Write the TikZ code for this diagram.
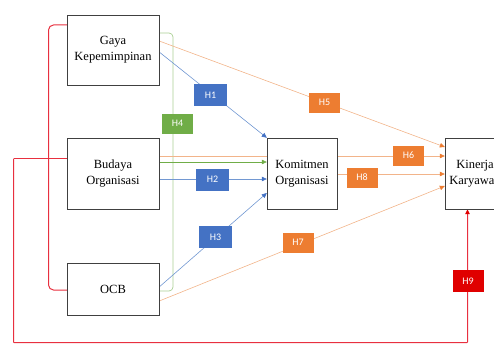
\documentclass[tikz,border=0pt]{standalone}
\usepackage{fontspec}
\setmainfont{Liberation Serif}
\newfontfamily\labfont{Carlito}
\usetikzlibrary{arrows.meta}
\definecolor{bluel}{HTML}{4472C4}
\definecolor{bluet}{HTML}{7298D2}
\definecolor{orgl}{HTML}{ED7D31}
\definecolor{orgt}{HTML}{F2B48A}
\definecolor{grnl}{HTML}{70AD47}
\definecolor{grnt}{HTML}{A9CF92}
\definecolor{redl}{HTML}{E00000}
\definecolor{redt}{HTML}{E8303F}
\definecolor{boxc}{HTML}{404040}
\tikzset{
  varbox/.style={draw=boxc, line width=0.9pt, fill=white, align=center, font=\fontsize{12.5}{16}\selectfont, inner sep=0pt},
  hlab/.style={font=\labfont\fontsize{10}{12}\selectfont, text=white, inner sep=0pt, minimum width=31pt, minimum height=20pt},
  blueln/.style={draw=bluet, line width=0.6pt, -{Triangle[length=5pt,width=4.5pt,fill=bluel,color=bluel]}},
  orgln/.style={draw=orgt, line width=0.6pt, -{Triangle[length=5pt,width=4.5pt,fill=orgl,color=orgl]}},
  grnln/.style={draw=grnt, line width=0.7pt},
  grnarr/.style={draw=grnl, line width=0.6pt, -{Triangle[length=5pt,width=4.5pt,fill=grnl,color=grnl]}},
  redln/.style={draw=redt, line width=1pt, rounded corners=0.5pt},
  redarr/.style={draw=redt, line width=1pt, rounded corners=0.5pt, -{Triangle[length=5pt,width=4.5pt,fill=redl,color=redl]}},
}
\begin{document}
\begin{tikzpicture}[x=1pt,y=-1pt]
\useasboundingbox (0,0) rectangle (494,345);
% box centres
\coordinate (cg) at (113,50);
\coordinate (cb) at (113,173.5);
\coordinate (co) at (113,289);
\coordinate (ck) at (302,173.5);
\coordinate (cr) at (475,173.5);
% invisible anchors of box edges
\node[minimum width=92pt, minimum height=70pt, inner sep=0pt] (gaya) at (cg) {};
\node[minimum width=92pt, minimum height=71pt, inner sep=0pt] (bud) at (cb) {};
\node[minimum width=92pt, minimum height=52pt, inner sep=0pt] (ocb) at (co) {};
\node[minimum width=70pt, minimum height=71pt, inner sep=0pt] (kom) at (ck) {};
\node[minimum width=60pt, minimum height=71pt, inner sep=0pt] (kin) at (cr) {};
% red feedback loop
\coordinate (loopa) at (13.5,158.5);
\coordinate (loopb) at (13.5,342.5);
\coordinate (loopc) at (467.5,342.5);
\draw[redarr] (loopa) -- (loopb) -- (loopc) -- (kin.south -| loopc);
\draw[redln] (loopa) -- (bud.west |- 0,158.5);
% red bracket
\coordinate (rtop) at (48.5,25);
\coordinate (rbot) at (48.5,290);
\draw[redln, rounded corners=5pt] (gaya.west |- 0,25) -- (rtop) -- (rbot) -- (ocb.west |- 0,290);
% green bracket
\coordinate (gtop) at (173,33);
\coordinate (gbot) at (173,291);
\draw[grnln, rounded corners=4pt] (gaya.east |- 0,33) -- (gtop) -- (gbot) -- (ocb.east |- 0,291);
\draw[grnarr] (bud.east |- 0,162) -- (kom.west |- 0,162);
% blue paths
\draw[blueln] (gaya.east |- 0,52) -- (kom.north west);
\draw[blueln] (bud.east |- 0,179) -- (kom.west |- 0,179);
\draw[blueln] (ocb.east |- 0,287) -- (kom.west |- 0,193);
% orange paths
\draw[orgln] (gaya.east |- 0,41) -- (kin.west |- 0,147);
\draw[orgln] (bud.east |- 0,156) -- (kin.west |- 0,156);
\draw[orgln] (kom.east |- 0,174) -- (kin.west |- 0,174);
\draw[orgln] (ocb.east |- 0,301) -- (kin.west |- 0,186);
% visible boxes
\node[varbox, minimum width=92pt, minimum height=70pt] (gayab) at (cg) {Gaya\\Kepemimpinan};
\node[varbox, minimum width=92pt, minimum height=71pt] (budb) at (cb) {Budaya\\Organisasi};
\node[varbox, minimum width=92pt, minimum height=52pt] (ocbb) at (co) {OCB};
\node[varbox, minimum width=70pt, minimum height=71pt] (komb) at (ck) {Komitmen\\Organisasi};
\node[varbox, minimum width=60pt, minimum height=71pt] (kinb) at (cr) {Kinerja\\Karyawan};
% labels
\node[hlab, fill=bluel, minimum width=33pt, minimum height=22pt] (h1) at (210.5,95) {H1};
\node[hlab, fill=bluel, minimum width=33pt, minimum height=22pt] (h2) at (212.5,179.5) {H2};
\node[hlab, fill=bluel, minimum width=33pt, minimum height=22pt] (h3) at (215.5,237) {H3};
\node[hlab, fill=grnl] (h4) at (177.5,123.5) {H4};
\node[hlab, fill=orgl] (h5) at (324.5,102.5) {H5};
\node[hlab, fill=orgl] (h6) at (408.5,155.5) {H6};
\node[hlab, fill=orgl] (h7) at (298,242.5) {H7};
\node[hlab, fill=orgl] (h8) at (362,177.5) {H8};
\node[hlab, fill=redl, minimum height=22pt] (h9) at (468,281) {H9};
\end{tikzpicture}
\end{document}
